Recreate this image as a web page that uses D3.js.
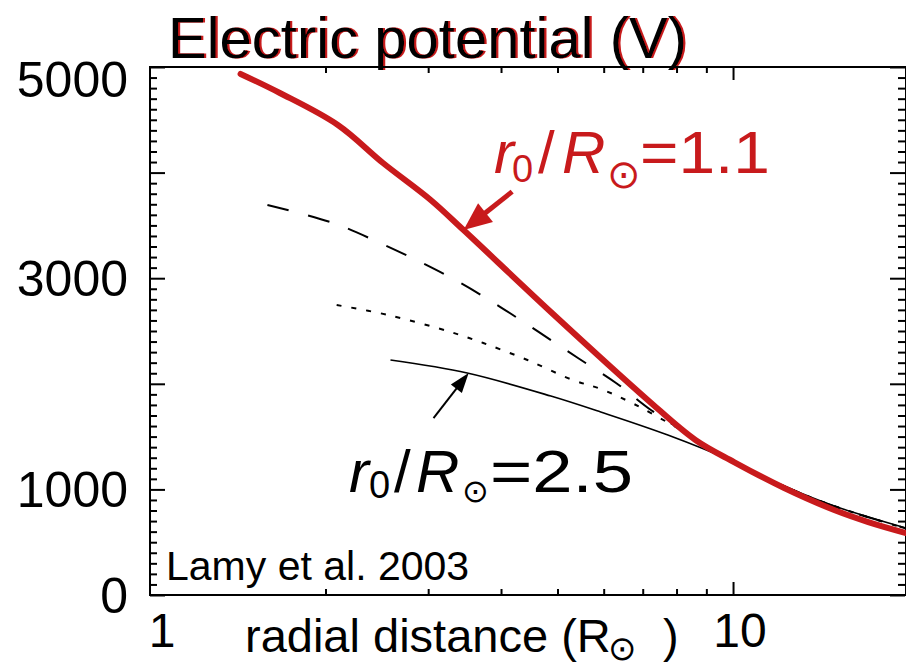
<!DOCTYPE html>
<html><head><meta charset="utf-8">
<script src="https://cdn.jsdelivr.net/npm/d3@7"></script>
<style>
body{margin:0;background:#fff}
svg{display:block}
text{font-family:"Liberation Sans",Arial,Helvetica,sans-serif}
</style>
</head><body>
<svg id="c" width="906" height="666"></svg>
<script>
// ---- data (radial distance in solar radii, potential in volts) ----
const red11R  = [1.43,1.67,2.10,2.51,3.03,3.45,4.87,7.14,8.62,10.04,12.24,14.91,17.06,19.8];
const red11V  = [4934,4754,4451,4091,3741,3456,2680,1847,1468,1259,1013,805,691,587];
const dashR   = [1.59,2.06,2.46,2.91,3.41,3.99,4.64,5.42,6.30,7.23,8.62,10.04,12.24,14.91,19.8];
const dashV   = [3693,3523,3343,3153,2955,2727,2491,2244,2008,1752,1480,1262,1030,840,630];
const dotR    = [2.09,2.56,3.28,3.73,4.44,5.31,5.93,6.76,8.14,10.04,12.24,14.91,19.8];
const dotV    = [2746,2652,2490,2386,2225,2036,1951,1809,1562,1262,1030,842,628];
const solid25R = [2.585,3.50,4.87,5.93,7.73,10.04,12.24,14.91,19.8];
const solid25V = [2225,2102,1884,1733,1515,1262,1032,843,634];

const xMinorTicks = [2,3,4,5,6,7,8,9];
const xMajorTicks = [10];
const xTickLabels = ["1","10"];
const yMajorTicks = [0,1000,2000,3000,4000,5000];
const yLabelTicks = ["0","1000","3000","5000"];
const yMinorTicks = d3.range(100,5000,100).filter(v => v % 1000 !== 0);

// annotation anchors (data space)
const redArrow   = {from:[4.18,3820], to:[3.45,3456]};
const blackArrow = {from:[3.064,1676], to:[3.52,2102]};

// ---- scales ----
const L = 150, R = 906, T = 67, B = 595;
const x = d3.scaleLog().domain([1,19.8]).range([L,R]);
const y = d3.scaleLinear().domain([0,5000]).range([B,T]);
const svg = d3.select("#c");

// red fringe filter for the title
const f = svg.append("defs").append("filter").attr("id","fringe")
  .attr("x","-5%").attr("y","-20%").attr("width","110%").attr("height","140%");
f.append("feOffset").attr("in","SourceAlpha").attr("dx",2).attr("dy",0).attr("result","off");
f.append("feFlood").attr("flood-color","#c81a1c").attr("result","col");
f.append("feComposite").attr("in","col").attr("in2","off").attr("operator","in").attr("result","sh");
const m = f.append("feMerge");
m.append("feMergeNode").attr("in","sh");
m.append("feMergeNode").attr("in","SourceGraphic");

// ---- title ----
svg.append("text").attr("x",168).attr("y",58).attr("font-size",58).attr("fill","#000")
  .attr("filter","url(#fringe)").text("Electric potential (V)");

// ---- axes ticks ----
function ticks(axisGen, vals, size, tr){
  const g = svg.append("g").attr("transform",tr)
    .call(axisGen.tickValues(vals).tickSize(size).tickFormat(""));
  g.select(".domain").remove();
  g.selectAll(".tick line").attr("stroke","#000").attr("stroke-width",2);
  return g;
}
ticks(d3.axisBottom(x), xMinorTicks, -6, `translate(0,${B})`);
ticks(d3.axisBottom(x), xMajorTicks, -13, `translate(0,${B})`);
ticks(d3.axisTop(x), xMinorTicks, -6, `translate(0,${T})`);
ticks(d3.axisTop(x), xMajorTicks, -13, `translate(0,${T})`);
ticks(d3.axisLeft(y), yMinorTicks, -7, `translate(${L},0)`);
ticks(d3.axisLeft(y), yMajorTicks, -15, `translate(${L},0)`);
ticks(d3.axisRight(y), yMinorTicks, -7, `translate(${R-1},0)`);
ticks(d3.axisRight(y), yMajorTicks, -15, `translate(${R-1},0)`);

// frame
svg.append("rect").attr("x",L).attr("y",T).attr("width",R-L).attr("height",B-T)
  .attr("fill","none").attr("stroke","#000").attr("stroke-width",2);

// y labels
svg.selectAll("text.ylab").data(yLabelTicks).join("text").attr("class","ylab")
  .attr("x",L-22).attr("text-anchor","end").attr("font-size",50)
  .attr("y",d => +d === 5000 ? y(+d)+30 : y(+d)+18).text(d => d);

// x labels
svg.selectAll("text.xlab").data(xTickLabels).join("text").attr("class","xlab")
  .attr("x",d => x(+d) + (+d === 1 ? 12 : 7)).attr("y",647)
  .attr("text-anchor","middle").attr("font-size",48).text(d => d);

// x axis title
svg.append("text").attr("x",245).attr("y",652).attr("font-size",47).text("radial distance (R");
svg.append("text").attr("x",608).attr("y",660).attr("font-size",34).attr("font-family","DejaVu Sans").text("\u2299");
svg.append("text").attr("x",663).attr("y",652).attr("font-size",47).text(")");

// ---- curves ----
const line = d3.line().x(d => x(d[0])).y(d => y(d[1])).curve(d3.curveCatmullRom.alpha(0.5));
const zip = (a,b) => a.map((v,i) => [v,b[i]]);
const plot = svg.append("g");
plot.append("path").datum(zip(dashR,dashV)).attr("d",line).attr("fill","none")
  .attr("stroke","#000").attr("stroke-width",2).attr("stroke-dasharray","22,20");
plot.append("path").datum(zip(dotR,dotV)).attr("d",line).attr("fill","none")
  .attr("stroke","#000").attr("stroke-width",2).attr("stroke-dasharray","5,10");
plot.append("path").datum(zip(solid25R,solid25V)).attr("d",line).attr("fill","none")
  .attr("stroke","#000").attr("stroke-width",1.6);
plot.append("path").datum(zip(red11R,red11V)).attr("d",line).attr("fill","none")
  .attr("stroke","#c81a1c").attr("stroke-width",6).attr("stroke-linecap","round");

// ---- arrows ----
function arrow(a, color, w, headLen, headW){
  const x1 = x(a.from[0]), y1 = y(a.from[1]), x2 = x(a.to[0]), y2 = y(a.to[1]);
  const dx = x2-x1, dy = y2-y1, len = Math.hypot(dx,dy), ux = dx/len, uy = dy/len;
  const bx = x2 - ux*headLen, by = y2 - uy*headLen;
  svg.append("line").attr("x1",x1).attr("y1",y1).attr("x2",bx+ux*2).attr("y2",by+uy*2)
    .attr("stroke",color).attr("stroke-width",w);
  svg.append("path").attr("fill",color)
    .attr("d",`M${x2},${y2}L${bx - uy*headW/2},${by + ux*headW/2}L${bx + uy*headW/2},${by - ux*headW/2}Z`);
}
arrow(redArrow, "#c81a1c", 5, 28, 24);
arrow(blackArrow, "#000", 2, 20, 14);

// ---- annotation labels ----
function label(parts, color){
  parts.forEach(p => {
    const t = svg.append("text").attr("x",p.x).attr("y",p.y).attr("font-size",p.s).attr("fill",color).text(p.t);
    if (p.i) t.attr("font-style","italic");
    if (p.f) t.attr("font-family",p.f);
    if (p.len) t.attr("textLength",p.len).attr("lengthAdjust","spacingAndGlyphs");
  });
}
label([
  {t:"r",x:494,y:173,s:60,i:true},
  {t:"0",x:512,y:182,s:38},
  {t:"/",x:538,y:173,s:60},
  {t:"R",x:562,y:173,s:60,i:true},
  {t:"\u2299",x:607,y:188,s:40,f:"DejaVu Sans"},
  {t:"=1.1",x:640,y:173,s:60,len:130}
], "#c81a1c");
label([
  {t:"r",x:349,y:492,s:60,i:true},
  {t:"0",x:369,y:498,s:38},
  {t:"/",x:394,y:492,s:60},
  {t:"R",x:416,y:492,s:60,i:true},
  {t:"\u2299",x:462,y:502,s:32,f:"DejaVu Sans"},
  {t:"=2.5",x:490,y:492,s:60,len:143}
], "#000");

// citation
svg.append("text").attr("x",166).attr("y",580).attr("font-size",41).text("Lamy et al. 2003");
</script>
</body></html>
